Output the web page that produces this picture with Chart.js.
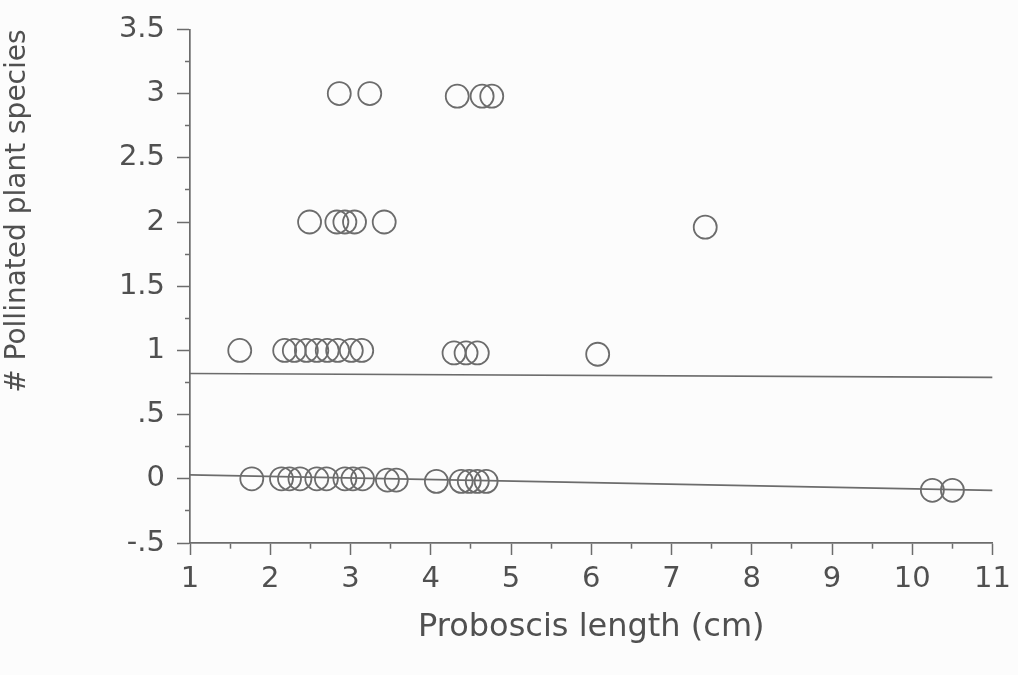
<!DOCTYPE html>
<html>
<head>
<meta charset="utf-8">
<script src="https://cdn.jsdelivr.net/npm/chart.js@4/dist/chart.umd.min.js"></script>
<style>
  html, body { margin: 0; padding: 0; background: #fcfcfc; }
  #wrap { width: 1018px; height: 675px; }
</style>
</head>
<body>
<div id="wrap"><canvas id="plot" width="1018" height="675"></canvas></div>
<script>
// Proboscis length (cm) against count
const lengthCm = [
    2.86, 3.24, 4.33, 4.64, 4.76,
    2.49, 2.83, 2.93, 3.05, 3.42, 7.42,
    1.62, 2.18, 2.30, 2.45, 2.58, 2.71, 2.84, 3.01, 3.14, 4.29, 4.44, 4.58, 6.08,
    1.77, 2.14, 2.24, 2.37, 2.58, 2.70, 2.93, 3.03, 3.15, 3.46, 3.57, 4.07, 4.38, 4.48, 4.58, 4.69, 10.25, 10.5
];
const countY = [
    3, 3, 2.98, 2.98, 2.98,
    2, 2, 2, 2, 2, 1.96,
    1, 1, 1, 1, 1, 1, 1, 1, 1, 0.98, 0.98, 0.98, 0.97,
    0, 0, 0, 0, 0, 0, 0, 0, 0, -0.01, -0.01, -0.02, -0.02, -0.02, -0.02, -0.02, -0.09, -0.09
];

// the two straight lines across the plot
const upperLineX = [1, 11];
const upperLineY = [0.82, 0.79];
const fitLineX = [1, 11];
const fitLineY = [0.03, -0.09];

const xTickLabels = ['1', '2', '3', '4', '5', '6', '7', '8', '9', '10', '11'];
const yTickLabels = ['-.5', '0', '.5', '1', '1.5', '2', '2.5', '3', '3.5'];

const ink = '#505050';
const markColor = '#6c6c6c';

const toXY = (xs, ys) => xs.map((x, i) => ({ x: x, y: ys[i] }));
const isHalf = v => Math.abs(v * 2 - Math.round(v * 2)) < 1e-9;

const xLabel = v => (Number.isInteger(v) ? xTickLabels[v - 1] : '');
const yLabel = v => (isHalf(v) ? yTickLabels[Math.round((v + 0.5) * 2)] : '');

new Chart(document.getElementById('plot').getContext('2d'), {
    type: 'scatter',
    data: {
        datasets: [
            {
                data: toXY(lengthCm, countY),
                pointRadius: 11.5,
                pointBorderWidth: 1.8,
                pointBorderColor: markColor,
                pointBackgroundColor: 'rgba(0,0,0,0)',
                showLine: false
            },
            {
                type: 'line',
                data: toXY(upperLineX, upperLineY),
                borderColor: markColor,
                borderWidth: 1.7,
                pointRadius: 0
            },
            {
                type: 'line',
                data: toXY(fitLineX, fitLineY),
                borderColor: markColor,
                borderWidth: 1.7,
                pointRadius: 0
            }
        ]
    },
    options: {
        responsive: false,
        animation: false,
        layout: { padding: { top: 29, right: 23, bottom: 0, left: 0 } },
        plugins: { legend: { display: false }, tooltip: { enabled: false } },
        scales: {
            x: {
                type: 'linear',
                min: 1,
                max: 11,
                afterFit: s => { s.height = 132; },
                ticks: {
                    stepSize: 0.5,
                    autoSkip: false,
                    maxRotation: 0,
                    padding: 7,
                    color: ink,
                    font: { family: 'DejaVu Sans', size: 29 },
                    callback: xLabel
                },
                grid: {
                    drawOnChartArea: false,
                    tickLength: 12,
                    tickWidth: 1.5,
                    tickColor: markColor,
                    tickBorderDash: c => (Number.isInteger(c.tick.value) ? [] : [5, 100])
                },
                border: { color: markColor, width: 1.7 },
                title: {
                    display: true,
                    text: 'Proboscis length (cm)',
                    color: ink,
                    font: { family: 'DejaVu Sans', size: 32 },
                    padding: { top: 0, bottom: 28 }
                }
            },
            y: {
                type: 'linear',
                min: -0.5,
                max: 3.5,
                afterFit: s => { s.width = 190; },
                ticks: {
                    stepSize: 0.25,
                    autoSkip: false,
                    padding: 12,
                    color: ink,
                    font: { family: 'DejaVu Sans', size: 29 },
                    callback: yLabel
                },
                grid: {
                    drawOnChartArea: false,
                    tickLength: 13,
                    tickWidth: 1.5,
                    tickColor: markColor,
                    tickBorderDash: c => (isHalf(c.tick.value) ? [] : [0, 8, 5, 100])
                },
                border: { color: markColor, width: 1.7 },
                title: {
                    display: true,
                    text: '# Pollinated plant species',
                    align: 'end',
                    color: ink,
                    font: { family: 'DejaVu Sans', size: 28 },
                    padding: { top: 1, bottom: 0 }
                }
            }
        }
    }
});
</script>
</body>
</html>
